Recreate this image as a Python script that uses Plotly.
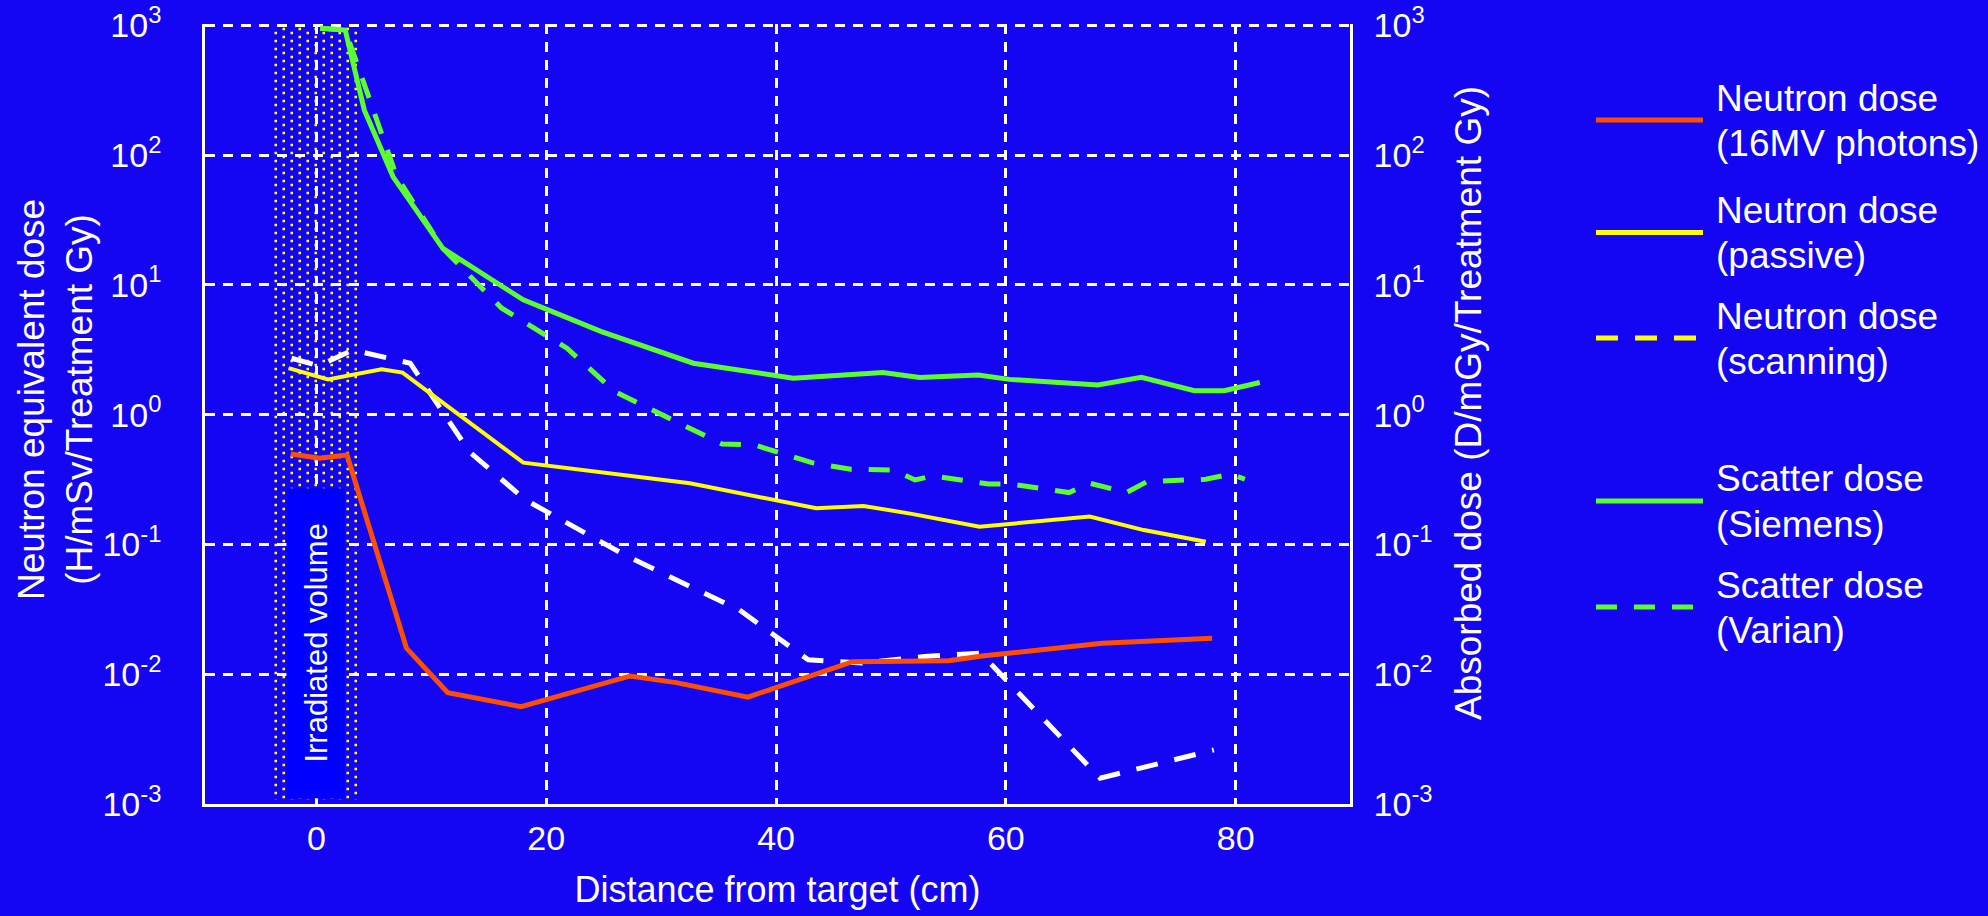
import numpy as np
import plotly.graph_objects as go

# ---------------- data ----------------
# Neutron dose, 16 MV photons (left axis, H/mSv per treatment Gy)
x_16mv = [-2.24, 0.29, 2.66, 7.83, 11.43, 17.82, 27.31, 31.31, 37.54, 46.66, 55.03, 57.92, 68.38, 77.95]
y_16mv = [0.498, 0.461, 0.489, 0.0159, 0.00721, 0.00562, 0.0097, 0.00861, 0.00665, 0.0125, 0.0127, 0.0138, 0.0173, 0.0189]

# Neutron dose, passive scattering protons
x_passive = [-2.43, 1.00, 5.67, 7.49, 18.0, 32.5, 43.5, 47.6, 51.8, 57.7, 67.3, 72.0, 77.4]
y_passive = [2.28, 1.87, 2.24, 2.11, 0.427, 0.296, 0.190, 0.198, 0.172, 0.137, 0.164, 0.129, 0.105]

# Neutron dose, scanning protons
x_scanning = [-2.17, 0.17, 3.16, 8.16, 13.3, 18.2, 27.1, 36.8, 42.8, 47.5, 52.9, 57.8, 68.2, 78.1]
y_scanning = [2.72, 2.38, 3.15, 2.49, 0.519, 0.220, 0.0805, 0.0313, 0.0129, 0.0122, 0.0137, 0.0145, 0.00158, 0.00261]

# Scatter dose, Siemens (right axis, D/mGy per treatment Gy)
x_siemens = [0.33, 2.50, 4.17, 6.67, 11.0, 18.0, 24.8, 32.8, 41.5, 49.3, 52.5, 57.6, 60.3, 68.0, 71.8, 76.4, 79.0, 82.1]
y_siemens = [948, 920, 222, 68, 19.1, 7.66, 4.36, 2.49, 1.91, 2.11, 1.93, 2.02, 1.87, 1.69, 1.94, 1.53, 1.53, 1.77]

# Scatter dose, Varian
x_varian = [0.33, 2.50, 6.99, 11.0, 16.1, 21.8, 26.0, 35.3, 38.1, 43.1, 46.5, 50.2, 52.1, 53.6, 58.5, 60.4,
            65.5, 67.3, 70.5, 72.3, 77.4, 79.6, 80.8]
y_varian = [948, 920, 68, 19.1, 6.64, 3.25, 1.50, 0.594, 0.585, 0.427, 0.379, 0.375, 0.314, 0.337, 0.292, 0.292,
            0.251, 0.296, 0.251, 0.305, 0.318, 0.349, 0.318]

x_tick_vals = [0, 20, 40, 60, 80]
y_tick_vals = [1e-3, 1e-2, 1e-1, 1, 10, 100, 1000]
y_tick_text = ["10<sup>-3</sup>", "10<sup>-2</sup>", "10<sup>-1</sup>", "10<sup>0</sup>",
               "10<sup>1</sup>", "10<sup>2</sup>", "10<sup>3</sup>"]

irradiated_extent = [-3.54, 3.42]        # cm, dotted irradiated region
irradiated_label_extent = [-2.61, 2.46]  # cm, label box

legend_names = ["Neutron dose<br>(16MV photons)", "Neutron dose<br>(passive)", "Neutron dose<br>(scanning)",
                "Scatter dose<br>(Siemens)", "Scatter dose<br>(Varian)"]

# ---------------- styling ----------------
BG = "#1405F2"
BOX = "#0000FF"
RED = "#FF4E00"
YELLOW = "#FFFF00"
GREEN = "#5CFF2E"
WHITE = "#FFFFFF"
FONT = "Liberation Sans, Arial, Helvetica, sans-serif"

W, H = 1988, 916
ML, MR, MT, MB = 205, 638, 24, 112
PW, PH = W - ML - MR, H - MT - MB
Y_RANGE = [-3, 3.01]


def px_x(px):
    return (px - ML) / PW


def px_y(py):
    return (H - MB - py) / PH


fig = go.Figure()

fig.add_trace(go.Scatter(x=x_scanning, y=y_scanning, mode="lines", name="Neutron dose (scanning)",
                         line=dict(color=WHITE, width=5, dash="22px,17px")))
fig.add_trace(go.Scatter(x=x_passive, y=y_passive, mode="lines", name="Neutron dose (passive)",
                         line=dict(color=YELLOW, width=4)))
fig.add_trace(go.Scatter(x=x_16mv, y=y_16mv, mode="lines", name="Neutron dose (16MV photons)",
                         line=dict(color=RED, width=5)))
fig.add_trace(go.Scatter(x=x_varian, y=y_varian, mode="lines", name="Scatter dose (Varian)", yaxis="y2",
                         line=dict(color=GREEN, width=5, dash="21px,17px")))
fig.add_trace(go.Scatter(x=x_siemens, y=y_siemens, mode="lines", name="Scatter dose (Siemens)", yaxis="y2",
                         line=dict(color=GREEN, width=5)))

shapes = []
# dotted irradiated-volume region (staggered dot columns)
col_x = np.linspace(irradiated_extent[0], irradiated_extent[1], 11)
for i, cx in enumerate(col_x):
    top = px_y(27.7 + (4 if i % 2 == 0 else 0))
    shapes.append(dict(type="line", xref="x", yref="paper", x0=cx, x1=cx, y0=top, y1=px_y(800),
                       line=dict(color=YELLOW, width=2.6, dash="2.6px,5.4px"), layer="below"))
# label box
shapes.append(dict(type="rect", xref="x", yref="paper", x0=irradiated_label_extent[0], x1=irradiated_label_extent[1],
                   y0=px_y(798.3), y1=px_y(488.3), fillcolor=BOX, line=dict(width=0), layer="above"))

annotations = [dict(text="Irradiated volume", xref="x", yref="paper",
                    x=sum(irradiated_label_extent) / 2, y=px_y(643), textangle=-90,
                    showarrow=False, font=dict(size=31, color=WHITE, family=FONT),
                    xanchor="center", yanchor="middle")]

# axis titles for the two y axes
annotations.append(dict(text="Neutron equivalent dose<br>(H/mSv/Treatment Gy)", xref="paper", yref="paper",
                        x=px_x(56), y=px_y(400), textangle=-90, showarrow=False,
                        xanchor="center", yanchor="middle", font=dict(size=37, color=WHITE, family=FONT)))
annotations.append(dict(text="Absorbed dose (D/mGy/Treatment Gy)", xref="paper", yref="paper",
                        x=px_x(1468), y=px_y(403), textangle=-90, showarrow=False,
                        xanchor="center", yanchor="middle", font=dict(size=37, color=WHITE, family=FONT)))

# custom legend
legend_colors = [RED, YELLOW, YELLOW, GREEN, GREEN]
legend_dash = ["solid", "solid", "22px,17px", "solid", "21px,17px"]
legend_rows_px = [120, 232.5, 338, 501, 607]
for name, col, dsh, ry in zip(legend_names, legend_colors, legend_dash, legend_rows_px):
    shapes.append(dict(type="line", xref="paper", yref="paper", x0=px_x(1596), x1=px_x(1703),
                       y0=px_y(ry), y1=px_y(ry), line=dict(color=col, width=5, dash=dsh)))
    first, second = name.split("<br>")
    for txt, ty in ((first, ry - 22), (second, ry + 23)):
        annotations.append(dict(text=txt, xref="paper", yref="paper", x=px_x(1714), y=px_y(ty),
                                xanchor="left", yanchor="middle", align="left", showarrow=False,
                                font=dict(size=37, color=WHITE, family=FONT)))

grid = dict(showgrid=True, gridcolor=WHITE, gridwidth=2.5, griddash="10px,8px")

fig.update_layout(
    width=W, height=H,
    paper_bgcolor=BG, plot_bgcolor=BG,
    margin=dict(l=ML, r=MR, t=MT, b=MB, pad=0, autoexpand=False),
    font=dict(family=FONT, color=WHITE),
    showlegend=False,
    shapes=shapes,
    annotations=annotations,
    xaxis=dict(range=[-9.7, 89.95], tickvals=x_tick_vals, ticks="", zeroline=False, automargin=False,
               showline=True, linecolor=WHITE, linewidth=2.5,
               tickfont=dict(size=34, color=WHITE), ticklabelstandoff=2,
               title=dict(text="Distance from target (cm)", font=dict(size=36, color=WHITE), standoff=22),
               **grid),
    yaxis=dict(type="log", range=Y_RANGE, tickvals=y_tick_vals, ticktext=y_tick_text, ticks="",
               zeroline=False, showline=True, linecolor=WHITE, linewidth=2.5, automargin=False,
               tickfont=dict(size=34, color=WHITE), ticklabelstandoff=34,
               **grid),
    yaxis2=dict(type="log", range=Y_RANGE, tickvals=y_tick_vals, ticktext=y_tick_text, ticks="",
                overlaying="y", side="right", showgrid=False, zeroline=False, automargin=False,
                showline=True, linecolor=WHITE, linewidth=2.5,
                tickfont=dict(size=34, color=WHITE), ticklabelstandoff=14),
)

fig.write_html("out.html", config={"displayModeBar": False},
               post_script="document.body.style.margin='0';")
